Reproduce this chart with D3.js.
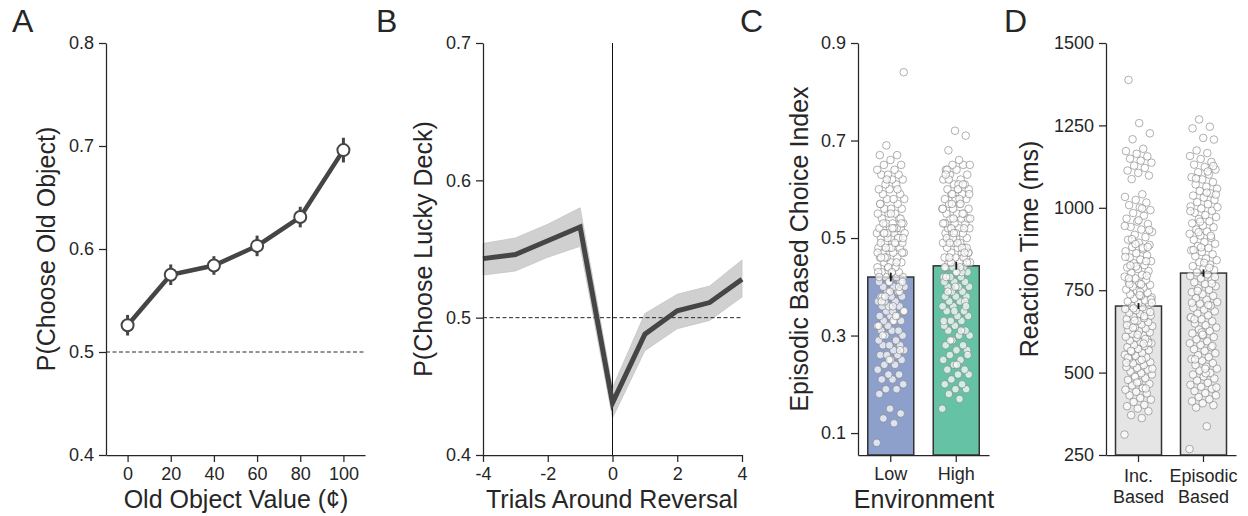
<!DOCTYPE html>
<html>
<head>
<meta charset="utf-8">
<style>
body { margin: 0; background: #fff; }
svg { display: block; font-family: "Liberation Sans", Arial, sans-serif; }
.axis path, .axis line { stroke: #262626; stroke-width: 1.25; }
.axis text { fill: #262626; font-size: 18px; font-family: "Liberation Sans", Arial, sans-serif; }
.lab { fill: #262626; font-size: 25px; }
.letter { fill: #262626; font-size: 32px; }
</style>
</head>
<body>
<svg width="1248" height="516"></svg>
<script src="https://d3js.org/d3.v7.min.js"></script>
<script>

// panel A: old object value curve
var aValues = [0, 20, 40, 60, 80, 100],
    aMeans  = [0.526, 0.575, 0.584, 0.603, 0.631, 0.696],
    aErr    = [0.010, 0.010, 0.009, 0.010, 0.010, 0.012];

// panel B: trials around reversal
var bTrials = [-4, -3, -2, -1, 0, 1, 2, 3, 4],
    bMeans  = [0.543, 0.546, 0.556, 0.566, 0.438, 0.488, 0.505, 0.511, 0.528],
    bLow    = [0.531, 0.534, 0.544, 0.552, 0.427, 0.476, 0.492, 0.498, 0.515],
    bHigh   = [0.554, 0.558, 0.568, 0.580, 0.449, 0.503, 0.517, 0.523, 0.542];

// panel C: episodic based choice index
var cCats  = ["Low", "High"],
    cMeans = [0.420, 0.443],
    cErr   = [0.009, 0.008],
    cColors = ["#8da0cb", "#66c2a5"];
var cLowPts = [0.08,0.12,0.13,0.14,0.15,0.18,0.19,0.19,0.20,0.21,0.21,0.22,0.22,0.23,0.24,0.24,0.25,0.25,0.26,0.26,
  0.26,0.27,0.27,0.28,0.28,0.28,0.29,0.29,0.30,0.30,0.31,0.31,0.31,0.32,0.32,0.33,0.33,0.33,0.34,0.34,
  0.34,0.35,0.35,0.35,0.36,0.36,0.36,0.37,0.37,0.37,0.38,0.38,0.38,0.39,0.39,0.40,0.40,0.40,0.41,0.41,
  0.41,0.42,0.42,0.42,0.43,0.43,0.43,0.44,0.44,0.44,0.45,0.45,0.45,0.46,0.46,0.46,0.47,0.47,0.47,0.48,
  0.48,0.48,0.49,0.49,0.49,0.50,0.50,0.50,0.50,0.51,0.51,0.51,0.52,0.52,0.52,0.52,0.53,0.53,0.53,0.54,
  0.54,0.55,0.55,0.55,0.56,0.56,0.56,0.57,0.57,0.58,0.58,0.58,0.59,0.59,0.60,0.60,0.61,0.61,0.62,0.62,
  0.63,0.63,0.63,0.64,0.64,0.65,0.65,0.66,0.67,0.67,0.69,0.84,
  0.36,0.38,0.39,0.41,0.43,0.44,0.46,0.47,0.48,0.49,0.50,0.51,0.51,0.52,0.53,0.54,0.39,0.42,0.45,0.48,
  0.50,0.52,0.37,0.40,0.44,0.47,0.49,0.51,0.53,0.55,0.57,0.60,0.62,0.35,0.33,0.30,0.27,0.25,0.32,0.34,
  0.38,0.41,0.43,0.46];
var cHighPts = [0.15,0.17,0.18,0.19,0.19,0.20,0.20,0.21,0.22,0.22,0.23,0.23,0.24,0.25,0.25,0.26,0.27,0.27,0.28,0.28,
  0.29,0.30,0.30,0.31,0.31,0.32,0.32,0.33,0.33,0.34,0.34,0.35,0.35,0.36,0.36,0.37,0.37,0.38,0.38,0.38,
  0.39,0.39,0.40,0.40,0.40,0.41,0.41,0.42,0.42,0.42,0.43,0.43,0.44,0.44,0.44,0.45,0.45,0.45,0.46,0.46,
  0.46,0.47,0.47,0.47,0.48,0.48,0.48,0.49,0.49,0.49,0.50,0.50,0.50,0.51,0.51,0.51,0.52,0.52,0.52,0.53,
  0.53,0.53,0.54,0.54,0.54,0.55,0.55,0.55,0.56,0.56,0.57,0.57,0.58,0.58,0.58,0.59,0.59,0.60,0.60,0.60,
  0.61,0.61,0.62,0.62,0.63,0.63,0.64,0.64,0.65,0.65,0.65,0.66,0.68,0.71,0.72,
  0.41,0.43,0.45,0.47,0.49,0.50,0.52,0.54,0.56,0.44,0.46,0.48,0.51,0.53,0.55,0.57,0.59,0.61,0.39,0.37,
  0.35,0.33,0.31,0.29,0.26,0.24,0.42,0.46,0.50,0.54,0.58,0.62,0.36,0.40,0.44,0.48,0.52,0.56,0.60,0.64,
  0.47,0.51,0.53,0.57,0.49,0.45,0.43,0.63,0.61,0.59];

// panel D: reaction times
var dCats  = [["Inc.", "Based"], ["Episodic", "Based"]],
    dMeans = [702, 802],
    dErr   = [9, 11];
var dIncPts = [312,362,371,383,391,398,402,411,418,423,431,437,442,448,453,461,466,472,478,483,
  489,494,498,503,509,514,517,523,528,531,536,542,546,551,554,559,563,568,572,577,
  581,584,589,593,597,601,606,609,613,618,622,626,629,634,638,641,646,649,653,657,
  662,665,669,673,678,681,686,689,693,698,702,706,711,716,719,724,728,733,737,742,
  748,752,757,761,766,771,776,781,786,791,797,803,808,814,819,826,832,838,843,849,
  856,862,868,874,881,887,894,903,911,918,927,934,942,951,958,967,976,984,993,1001,
  1008,1016,1024,1033,1041,1087,1098,1106,1113,1121,1128,1137,1143,1149,1156,1164,1172,1179,1208,1226,
  1257,1388,
  452,487,512,539,566,591,615,644,671,695,722,745,768,794,822,851,879,905,933,962,
  545,602,658,712,768,825,881,470,530,588,636,684,735,786,838,890,945,998];
var dEpiPts = [268,337,394,401,407,413,419,426,431,438,444,451,457,463,469,476,482,488,494,499,
  506,512,518,523,529,536,541,547,553,559,566,571,577,584,589,595,601,608,613,619,
  626,631,637,644,649,656,662,667,674,679,686,691,697,703,709,714,721,726,733,738,
  744,751,756,762,769,774,781,786,793,798,804,811,816,823,828,835,841,846,853,859,
  866,871,878,884,891,896,903,909,916,921,928,934,941,946,953,959,966,972,978,985,
  991,998,1004,1011,1017,1024,1031,1037,1044,1051,1058,1064,1071,1078,1086,1093,1101,1108,1116,1124,
  1131,1139,1148,1157,1166,1174,1207,1212,1241,1246,1268,
  455,498,540,581,622,668,705,748,790,833,872,915,958,1002,1046,1089,1127,615,712,818,
  926,1040,512,662,770,880,990,1110];

var svg = d3.select("svg");
var ink = "#262626", lineCol = "#454545";

function letter(x, t) {
  svg.append("text").attr("class", "letter").attr("x", x).attr("y", 32).text(t);
}
function ylabel(x, cy, t) {
  svg.append("text").attr("class", "lab")
    .attr("transform", "translate(" + x + "," + cy + ") rotate(-90)")
    .attr("text-anchor", "middle").text(t);
}
function xlabel(cx, t) {
  svg.append("text").attr("class", "lab").attr("x", cx).attr("y", 508)
    .attr("text-anchor", "middle").text(t);
}
function axes(x, y, xAxis, yAxis, left) {
  svg.append("g").attr("class", "axis")
    .attr("transform", "translate(0," + y.range()[0] + ")")
    .call(xAxis.tickSize(7).tickSizeOuter(0).tickPadding(5));
  svg.append("g").attr("class", "axis")
    .attr("transform", "translate(" + left + ",0)")
    .call(yAxis.tickSize(7).tickSizeOuter(0).tickPadding(5));
}

// ---------- A ----------
var xA = d3.scaleLinear().domain([-10, 110]).range([106, 365]),
    yA = d3.scaleLinear().domain([0.4, 0.8]).range([455, 43]);

svg.append("line").attr("x1", 106).attr("x2", 365)
  .attr("y1", yA(0.5)).attr("y2", yA(0.5))
  .attr("stroke", ink).attr("stroke-width", 1).attr("stroke-dasharray", "4,2.5");

axes(xA, yA, d3.axisBottom(xA).tickValues(aValues),
     d3.axisLeft(yA).tickValues([0.4, 0.5, 0.6, 0.7, 0.8]).tickFormat(d3.format(".1f")), 106);

svg.append("path").datum(aValues)
  .attr("fill", "none").attr("stroke", lineCol).attr("stroke-width", 4.5)
  .attr("d", d3.line().x(function(d) { return xA(d); })
                      .y(function(d, i) { return yA(aMeans[i]); }));
svg.selectAll(".errA").data(aValues).enter().append("line")
  .attr("x1", function(d) { return xA(d); }).attr("x2", function(d) { return xA(d); })
  .attr("y1", function(d, i) { return yA(aMeans[i] - aErr[i]); })
  .attr("y2", function(d, i) { return yA(aMeans[i] + aErr[i]); })
  .attr("stroke", lineCol).attr("stroke-width", 3);
svg.selectAll(".dotA").data(aValues).enter().append("circle")
  .attr("cx", function(d) { return xA(d); })
  .attr("cy", function(d, i) { return yA(aMeans[i]); })
  .attr("r", 6).attr("fill", "#fff").attr("stroke", lineCol).attr("stroke-width", 2);

letter(12, "A");
ylabel(55, 249, "P(Choose Old Object)");
xlabel(236, "Old Object Value (\u00a2)");

// ---------- B ----------
var xB = d3.scaleLinear().domain([-4, 4]).range([483, 742]),
    yB = d3.scaleLinear().domain([0.4, 0.7]).range([455, 43]);

svg.append("path").datum(bTrials)
  .attr("fill", "#d0d0d0").attr("stroke", "#c4c4c4").attr("stroke-width", 0.8)
  .attr("d", d3.area().x(function(d) { return xB(d); })
     .y0(function(d, i) { return yB(bLow[i]); })
     .y1(function(d, i) { return yB(bHigh[i]); }));
svg.append("line").attr("x1", 483).attr("x2", 742)
  .attr("y1", yB(0.5)).attr("y2", yB(0.5))
  .attr("stroke", ink).attr("stroke-width", 1).attr("stroke-dasharray", "4,2.5");
svg.append("line").attr("x1", xB(0)).attr("x2", xB(0))
  .attr("y1", 43).attr("y2", 455).attr("stroke", "#111").attr("stroke-width", 1);
svg.append("path").datum(bTrials)
  .attr("fill", "none").attr("stroke", lineCol).attr("stroke-width", 5)
  .attr("d", d3.line().x(function(d) { return xB(d); })
                      .y(function(d, i) { return yB(bMeans[i]); }));

axes(xB, yB, d3.axisBottom(xB).tickValues([-4, -2, 0, 2, 4]).tickFormat(function(d) { return String(d); }),
     d3.axisLeft(yB).tickValues([0.4, 0.5, 0.6, 0.7]).tickFormat(d3.format(".1f")), 483);

letter(376, "B");
ylabel(432, 249, "P(Choose Lucky Deck)");
xlabel(612, "Trials Around Reversal");

// ---------- bar + strip panels ----------
function jitter(i, w) {
  return (((i * 0.6180339887) % 1) - 0.5) * 2 * w;
}
function stripPanel(x, y, means, errs, fills, pts) {
  var bw = 46;
  svg.selectAll(null).data(means).enter().append("rect")
    .attr("x", function(d, i) { return x(i) + x.bandwidth() / 2 - bw / 2; })
    .attr("y", function(d) { return y(d); })
    .attr("width", bw)
    .attr("height", function(d) { return y.range()[0] - y(d); })
    .attr("fill", function(d, i) { return fills[i]; })
    .attr("stroke", "#333").attr("stroke-width", 1.5);
  pts.forEach(function(arr, g) {
    var cx = x(g) + x.bandwidth() / 2;
    svg.append("g").selectAll("circle").data(arr).enter().append("circle")
      .attr("cx", function(d, i) { return cx + jitter(i, 14); })
      .attr("cy", function(d) { return y(d); })
      .attr("r", 3.8)
      .attr("fill", "#fff").attr("fill-opacity", 0.7)
      .attr("stroke", "#7a7a7a").attr("stroke-width", 0.6);
  });
  svg.selectAll(null).data(means).enter().append("line")
    .attr("x1", function(d, i) { return x(i) + x.bandwidth() / 2; })
    .attr("x2", function(d, i) { return x(i) + x.bandwidth() / 2; })
    .attr("y1", function(d, i) { return y(d - errs[i]); })
    .attr("y2", function(d, i) { return y(d + errs[i]); })
    .attr("stroke", "#1a1a1a").attr("stroke-width", 1.8);
}

// ---------- C ----------
var xC = d3.scaleBand().domain([0, 1]).range([858, 989]),
    yC = d3.scaleLinear().domain([0.055, 0.9]).range([455, 43]);
stripPanel(xC, yC, cMeans, cErr, cColors, [cLowPts, cHighPts]);
axes(xC, yC, d3.axisBottom(xC).tickFormat(function(d) { return cCats[d]; }),
     d3.axisLeft(yC).tickValues([0.1, 0.3, 0.5, 0.7, 0.9]).tickFormat(d3.format(".1f")), 858);
letter(740, "C");
ylabel(808, 249, "Episodic Based Choice Index");
xlabel(924, "Environment");

// ---------- D ----------
var xD = d3.scaleBand().domain([0, 1]).range([1106, 1236]),
    yD = d3.scaleLinear().domain([250, 1500]).range([455, 43]);
stripPanel(xD, yD, dMeans, dErr, ["#e5e5e5", "#e5e5e5"], [dIncPts, dEpiPts]);
axes(xD, yD, d3.axisBottom(xD).tickFormat(function() { return ""; }),
     d3.axisLeft(yD).tickValues([250, 500, 750, 1000, 1250, 1500]).tickFormat(d3.format("d")), 1106);
dCats.forEach(function(lines, i) {
  var t = svg.append("text").attr("text-anchor", "middle")
    .attr("fill", ink).style("font-size", "18px");
  lines.forEach(function(s, k) {
    t.append("tspan").attr("x", xD(i) + xD.bandwidth() / 2)
      .attr("y", 482 + k * 21).text(s);
  });
});
letter(1004, "D");
ylabel(1038, 249, "Reaction Time (ms)");

</script>
</body>
</html>
